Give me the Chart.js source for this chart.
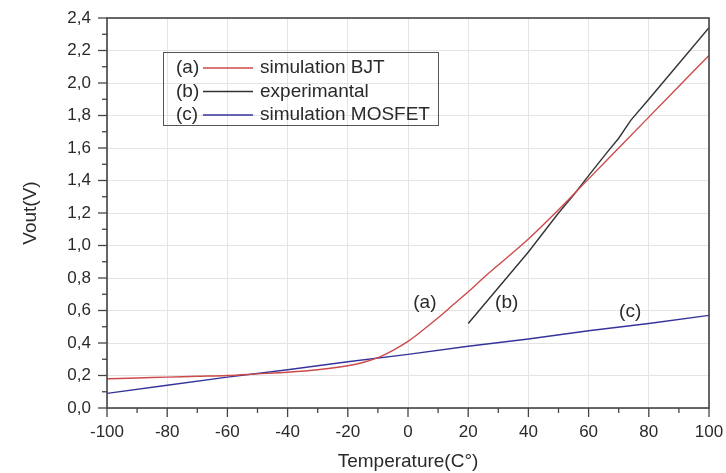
<!DOCTYPE html>
<html>
<head>
<meta charset="utf-8">
<script src="https://cdn.jsdelivr.net/npm/chart.js@4"></script>
<style>
  html, body { margin: 0; padding: 0; background: #fff; }
  #wrap { width: 726px; height: 473px; }
</style>
</head>
<body>
<div id="wrap"><canvas id="vout" width="726" height="473"></canvas></div>
<script>
// valeurs
const tempBJT = [-100, -90, -80, -70, -60, -50, -40, -30, -20, -15, -10, -5, 0, 5, 10, 15, 20, 25, 30, 40, 50, 60, 70, 80, 90, 100];
const voutBJT = [0.18, 0.185, 0.19, 0.195, 0.20, 0.21, 0.22, 0.235, 0.26, 0.28, 0.31, 0.355, 0.41, 0.48, 0.555, 0.635, 0.715, 0.80, 0.88, 1.04, 1.22, 1.41, 1.60, 1.79, 1.98, 2.17];

const tempExp = [20, 30, 40, 50, 55, 60, 66, 70, 74, 80, 90, 100];
const voutExp = [0.52, 0.74, 0.96, 1.20, 1.31, 1.43, 1.57, 1.66, 1.77, 1.90, 2.12, 2.34];

const tempMOS = [-100, -80, -60, -40, -20, 0, 20, 40, 60, 80, 100];
const voutMOS = [0.09, 0.14, 0.19, 0.235, 0.285, 0.33, 0.38, 0.425, 0.475, 0.52, 0.57];

const legendTags = ["(a)", "(b)", "(c)"];
const legendNames = ["simulation BJT", "experimantal", "simulation MOSFET"];

// étiquettes (a) (b) (c) placées dans le graphe
const curveTags = [
    { text: "(a)", x: 5.6, y: 0.65 },
    { text: "(b)", x: 32.8, y: 0.65 },
    { text: "(c)", x: 73.8, y: 0.59 },
];

const FONT = "'Liberation Sans', Arial, sans-serif";
const pts = (xs, ys) => xs.map((x, i) => ({ x: x, y: ys[i] }));

// cadre, petites graduations, légende et étiquettes
const decor = {
    id: "decor",
    afterDraw(chart) {
        const c = chart.ctx;
        const a = chart.chartArea;
        const sx = chart.scales.x, sy = chart.scales.y;
        c.save();
        c.strokeStyle = "#444";
        c.lineWidth = 1.6;
        c.strokeRect(a.left, a.top, a.right - a.left, a.bottom - a.top);

        c.lineWidth = 1.3;
        sx.ticks.forEach(t => {
            const px = sx.getPixelForValue(t.value);
            const len = Math.round(t.value) % 20 === 0 ? 9 : 5;
            c.beginPath(); c.moveTo(px, a.bottom); c.lineTo(px, a.bottom + len); c.stroke();
        });
        sy.ticks.forEach(t => {
            const py = sy.getPixelForValue(t.value);
            const len = Math.round(t.value * 10) % 2 === 0 ? 9 : 5;
            c.beginPath(); c.moveTo(a.left, py); c.lineTo(a.left - len, py); c.stroke();
        });

        // légende
        c.font = "19px " + FONT;
        const w = Math.max(...legendNames.map(n => c.measureText(n).width));
        c.strokeStyle = "#555";
        c.lineWidth = 1;
        c.strokeRect(163.5, 52.5, 260 + w + 8 - 163, 73);
        c.textBaseline = "middle";
        chart.data.datasets.forEach((ds, i) => {
            const yy = 68 + i * 23.5;
            c.fillStyle = "#2a2a2a";
            c.textAlign = "left";
            c.fillText(legendTags[i], 176, yy);
            c.strokeStyle = ds.borderColor;
            c.lineWidth = 1.3;
            c.beginPath(); c.moveTo(203, yy); c.lineTo(253, yy); c.stroke();
            c.fillText(legendNames[i], 260, yy);
        });

        c.fillStyle = "#2a2a2a";
        c.textAlign = "center";
        curveTags.forEach(t => {
            c.fillText(t.text, sx.getPixelForValue(t.x), sy.getPixelForValue(t.y));
        });
        c.restore();
    }
};

const ctx = document.getElementById("vout").getContext("2d");
new Chart(ctx, {
    type: "line",
    data: {
        datasets: [
            { label: legendNames[0], data: pts(tempBJT, voutBJT), borderColor: "#cc4a4a", borderWidth: 1.4, pointRadius: 0, cubicInterpolationMode: "monotone" },
            { label: legendNames[1], data: pts(tempExp, voutExp), borderColor: "#333333", borderWidth: 1.4, pointRadius: 0 },
            { label: legendNames[2], data: pts(tempMOS, voutMOS), borderColor: "#34349c", borderWidth: 1.4, pointRadius: 0 },
        ],
    },
    options: {
        responsive: false,
        animation: false,
        layout: { padding: { left: 19, top: 18, right: 17, bottom: 0 } },
        plugins: { legend: { display: false }, tooltip: { enabled: false } },
        scales: {
            x: {
                type: "linear",
                min: -100, max: 100,
                afterFit: s => { s.height = 65; s.paddingLeft = 0; s.paddingRight = 0; },
                ticks: {
                    stepSize: 10, autoSkip: false, maxRotation: 0, padding: 14,
                    color: "#2a2a2a", font: { family: FONT, size: 17 },
                    callback: v => (Math.round(v) % 20 === 0 ? String(v) : ""),
                },
                grid: {
                    drawTicks: false,
                    color: c => (c.tick && Math.round(c.tick.value) % 20 === 0 ? "#e4e4e4" : "rgba(0,0,0,0)"),
                },
                border: { display: false },
                title: { display: true, text: "Temperature(C°)", color: "#2a2a2a", font: { family: FONT, size: 19 }, padding: { top: 0, bottom: 0 } },
            },
            y: {
                min: 0, max: 2.4,
                afterFit: s => { s.width = 88; s.paddingTop = 0; s.paddingBottom = 0; },
                ticks: {
                    stepSize: 0.1, autoSkip: false, padding: 16,
                    color: "#2a2a2a", font: { family: FONT, size: 17 },
                    callback: v => (Math.round(v * 10) % 2 === 0 ? v.toFixed(1).replace(".", ",") : ""),
                },
                grid: {
                    drawTicks: false,
                    color: c => (c.tick && Math.round(c.tick.value * 10) % 2 === 0 ? "#e4e4e4" : "rgba(0,0,0,0)"),
                },
                border: { display: false },
                title: { display: true, text: "Vout(V)", color: "#2a2a2a", font: { family: FONT, size: 19 }, padding: { top: 0, bottom: 4 } },
            },
        },
    },
    plugins: [decor],
});
</script>
</body>
</html>
